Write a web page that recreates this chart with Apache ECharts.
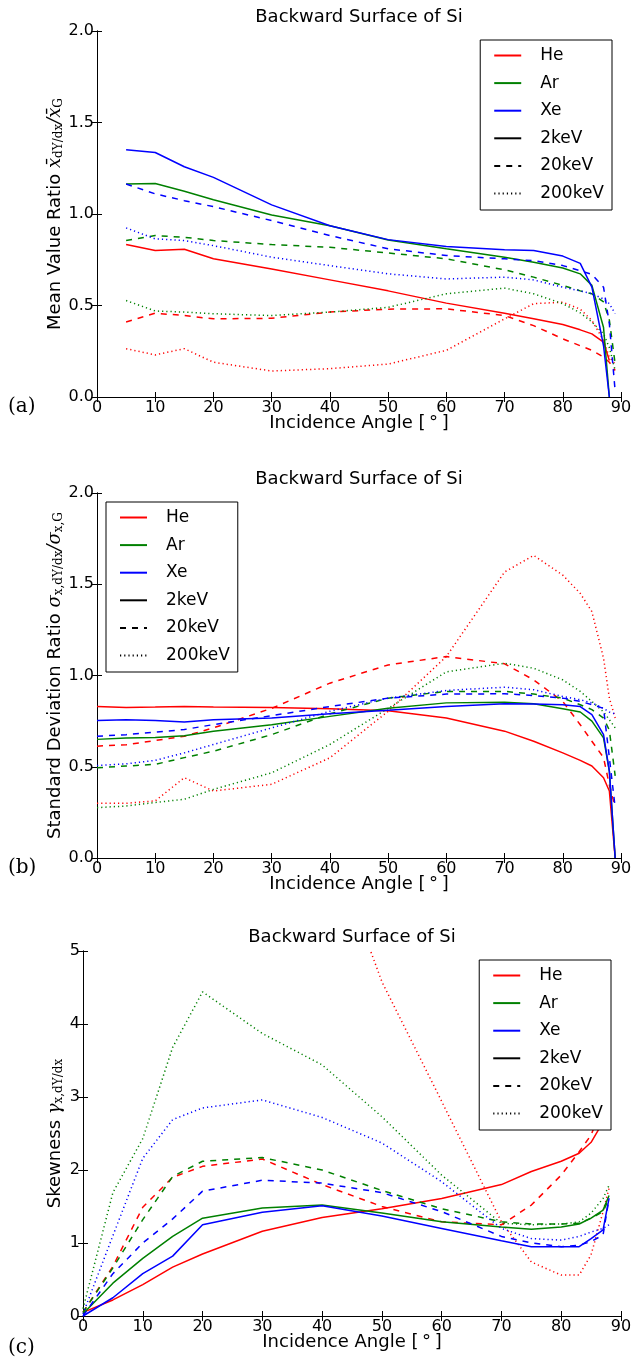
<!DOCTYPE html>
<html><head><meta charset="utf-8">
<script src="https://cdn.jsdelivr.net/npm/echarts@6/dist/echarts.min.js"></script>
<style>html,body{margin:0;padding:0;background:#fff}#c{width:644px;height:1362px}</style>
</head><body><div id="c"></div>
<script>
// ---------- data ----------
const anglesA = [5,10,15,20,30,40,50,60,70,75,80,83,85,87,88,89];
const aHe2   = [0.833,0.80,0.807,0.755,0.70,0.64,0.58,0.513,0.458,0.427,0.396,0.367,0.345,0.30,0.20,null];
const aAr2   = [1.164,1.167,1.124,1.078,0.995,0.936,0.858,0.81,0.764,0.736,0.705,0.673,0.61,0.38,0.0,null];
const aXe2   = [1.351,1.336,1.258,1.20,1.05,0.936,0.86,0.822,0.804,0.80,0.77,0.73,0.60,0.28,0.0,null];
const aHe20  = [0.41,0.458,0.445,0.427,0.43,0.464,0.48,0.482,0.445,0.39,0.318,0.28,0.255,0.218,0.19,0.145];
const aAr20  = [0.855,0.882,0.873,0.855,0.833,0.818,0.787,0.755,0.695,0.655,0.61,0.58,0.564,0.52,0.42,0.18];
const aXe20  = [1.164,1.11,1.073,1.04,0.964,0.882,0.81,0.773,0.755,0.745,0.718,0.69,0.67,0.60,0.40,0.03];
const aHe200 = [0.264,0.23,0.264,0.19,0.142,0.155,0.18,0.255,0.427,0.51,0.518,0.48,0.418,0.31,0.218,0.18];
const aAr200 = [0.527,0.47,0.464,0.455,0.445,0.464,0.49,0.564,0.595,0.564,0.51,0.46,0.41,0.345,0.27,0.145];
const aXe200 = [0.924,0.864,0.855,0.827,0.764,0.718,0.673,0.645,0.655,0.64,0.60,0.58,0.564,0.536,0.51,0.455];

const anglesB = [0,5,10,15,20,30,40,50,60,70,75,80,83,85,87,88,89];
const bHe2   = [0.83,0.825,0.827,0.83,0.827,0.825,0.818,0.807,0.767,0.695,0.64,0.576,0.535,0.504,0.44,0.367,0.0];
const bAr2   = [0.65,0.658,0.66,0.67,0.695,0.73,0.776,0.82,0.85,0.853,0.845,0.818,0.80,0.75,0.658,0.476,0.0];
const bXe2   = [0.753,0.758,0.753,0.745,0.758,0.767,0.79,0.81,0.83,0.845,0.844,0.84,0.83,0.785,0.676,0.476,0.0];
const bHe20  = [0.613,0.62,0.644,0.667,0.713,0.82,0.958,1.058,1.104,1.064,0.976,0.858,0.73,0.64,0.55,0.40,0.276];
const bAr20  = [0.494,0.504,0.513,0.55,0.585,0.676,0.79,0.876,0.913,0.913,0.898,0.876,0.84,0.813,0.767,0.70,0.45];
const bXe20  = [0.667,0.676,0.689,0.704,0.731,0.78,0.83,0.876,0.898,0.90,0.89,0.876,0.858,0.84,0.82,0.55,0.276];
const bHe200 = [0.30,0.30,0.313,0.44,0.367,0.404,0.549,0.804,1.104,1.567,1.658,1.55,1.45,1.35,1.095,0.876,0.767];
const bAr200 = [0.276,0.285,0.304,0.322,0.376,0.467,0.622,0.82,1.02,1.067,1.04,0.976,0.913,0.858,0.80,0.758,0.713];
const bXe200 = [0.507,0.516,0.535,0.576,0.622,0.713,0.804,0.876,0.918,0.936,0.922,0.885,0.867,0.85,0.82,0.80,0.79];

const anglesC = [0,5,10,15,20,30,40,50,60,70,75,80,83,85,87,88];
const cHe2   = [0.05,0.22,0.43,0.67,0.85,1.16,1.35,1.47,1.61,1.80,1.98,2.12,2.23,2.38,2.66,3.0];
const cAr2   = [0.03,0.45,0.79,1.09,1.34,1.48,1.52,1.41,1.29,1.22,1.19,1.22,1.26,1.34,1.45,1.65];
const cXe2   = [0.0,0.25,0.58,0.82,1.25,1.42,1.51,1.37,1.20,1.03,0.95,0.95,0.95,1.06,1.18,1.61];
const cHe20  = [0.05,0.68,1.49,1.90,2.05,2.15,1.80,1.50,1.29,1.25,1.52,1.93,2.25,2.48,2.90,3.30];
const cAr20  = [0.05,0.66,1.32,1.91,2.12,2.17,2.00,1.72,1.47,1.29,1.26,1.26,1.27,1.34,1.43,1.61];
const cXe20  = [0.0,0.58,1.00,1.33,1.71,1.86,1.82,1.69,1.43,1.09,1.00,0.95,0.97,1.02,1.11,1.61];
const cHe200 = [12.0,13.0,12.5,12.0,11.0,9.0,6.8,4.58,2.94,1.29,0.74,0.56,0.56,0.84,1.43,1.75];
const cAr200 = [0.1,1.69,2.43,3.68,4.44,3.87,3.44,2.73,1.93,1.27,1.25,1.26,1.29,1.41,1.61,1.79];
const cXe200 = [0.03,1.10,2.16,2.69,2.85,2.96,2.72,2.37,1.84,1.20,1.06,1.04,1.09,1.15,1.20,1.25];

const elements = ['He','Ar','Xe'];
const energies = ['2keV','20keV','200keV'];
const titleText = 'Backward Surface of Si';
const xName = 'Incidence Angle [\u2009°\u2009]';
const panelLabels = ['(a)','(b)','(c)'];

// ---------- styling ----------
const colors = {He:'#ff0000', Ar:'#008000', Xe:'#0000ff'};
const dashes = {'2keV':'solid', '20keV':[6,6], '200keV':[1.2,3]};
const SANS = 'DejaVu Sans';
const SERIF = 'DejaVu Serif';

const panels = [
  {angles: anglesA, data: {He:[aHe2,aHe20,aHe200], Ar:[aAr2,aAr20,aAr200], Xe:[aXe2,aXe20,aXe200]},
   grid:{left:97, top:31, width:524, height:366}, yMax:2, yInt:0.5, dec:1, nameGap:32,
   legend:{right:644-612, top:40},
   yname:'{t|Mean Value Ratio }{m|x\u0304}{s|dY/dx}{m|/x\u0304}{s|G}'},
  {angles: anglesB, data: {He:[bHe2,bHe20,bHe200], Ar:[bAr2,bAr20,bAr200], Xe:[bXe2,bXe20,bXe200]},
   grid:{left:97, top:493, width:524, height:365}, yMax:2, yInt:0.5, dec:1, nameGap:32,
   legend:{left:106, top:502},
   yname:'{t|Standard Deviation Ratio }{m|σ}{s|x,dY/dx}{m|/σ}{s|x,G}'},
  {angles: anglesC, data: {He:[cHe2,cHe20,cHe200], Ar:[cAr2,cAr20,cAr200], Xe:[cXe2,cXe20,cXe200]},
   grid:{left:83, top:951, width:538, height:365}, yMax:5, yInt:1, dec:0, nameGap:18,
   legend:{right:644-611, top:960},
   yname:'{t|Skewness }{m|γ}{s|x,dY/dx}'}
];

const grid=[], xAxis=[], yAxis=[], series=[], legend=[], title=[], graphic=[];
const axLine = {show:true, lineStyle:{color:'#000', width:1}};
const tick = {show:true, inside:true, length:5, lineStyle:{color:'#000', width:1}};
const nameRich = {
  t:{fontFamily:SANS, fontSize:18, color:'#000'},
  m:{fontFamily:SERIF, fontStyle:'italic', fontSize:18, color:'#000'},
  s:{fontFamily:SERIF, fontSize:12, color:'#000', padding:[7,0,0,0]}
};

panels.forEach((p, gi) => {
  grid.push(Object.assign({containLabel:false, show:false}, p.grid));
  xAxis.push({gridIndex:gi, type:'value', min:0, max:90, interval:10, position:'bottom',
    axisLine:axLine, axisTick:tick, splitLine:{show:false},
    axisLabel:{color:'#000', fontFamily:SANS, fontSize:16, margin:3},
    name:xName, nameLocation:'middle', nameGap:17, nameMoveOverlap:false,
    nameTextStyle:{color:'#000', fontFamily:SANS, fontSize:18, verticalAlign:'top'}});
  xAxis.push({gridIndex:gi, type:'value', min:0, max:90, interval:10, position:'top',
    axisLine:axLine, axisTick:tick, axisLabel:{show:false}, splitLine:{show:false}});
  yAxis.push({gridIndex:gi, type:'value', min:0, max:p.yMax, interval:p.yInt, position:'left',
    axisLine:axLine, axisTick:tick, splitLine:{show:false},
    axisLabel:{color:'#000', fontFamily:SANS, fontSize:16, margin:3,
      formatter: v => v.toFixed(p.dec)},
    name:p.yname, nameLocation:'middle', nameRotate:90, nameGap:p.nameGap, nameMoveOverlap:false,
    nameTextStyle:{rich:nameRich}});
  yAxis.push({gridIndex:gi, type:'value', min:0, max:p.yMax, interval:p.yInt, position:'right',
    axisLine:axLine, axisTick:tick, axisLabel:{show:false}, splitLine:{show:false}});

  elements.forEach(el => {
    energies.forEach((en, ei) => {
      const vals = p.data[el][ei];
      series.push({type:'line', name:el, xAxisIndex:gi*2, yAxisIndex:gi*2,
        data:p.angles.map((a,i)=>[a, vals[i]]), symbol:'none', connectNulls:false,
        silent:true, animation:false, clip:true,
        lineStyle:{color:colors[el], width:1.5, type:dashes[en]},
        itemStyle:{color:colors[el]}, z: 2});
    });
  });
  energies.forEach(en => {
    series.push({type:'line', name:en, xAxisIndex:gi*2, yAxisIndex:gi*2, data:[],
      symbol:'none', animation:false,
      lineStyle:{color:'#000', width:1.5, type:dashes[en]}, itemStyle:{color:'#000'}});
  });

  legend.push(Object.assign({
    orient:'vertical', data:elements.concat(energies), selectedMode:false,
    backgroundColor:'#fff', borderColor:'#000', borderWidth:1, borderRadius:0,
    padding:[7,8,8,13], itemWidth:27, itemHeight:16, itemGap:10.6,
    itemStyle:{opacity:0},
    textStyle:{fontFamily:SANS, fontSize:17, color:'#000', padding:[0,0,0,14]}
  }, p.legend));

  const cx = p.grid.left + p.grid.width/2;
  title.push({text:titleText, left:cx, top:p.grid.top-23, textAlign:'center', padding:0,
    textStyle:{fontFamily:SANS, fontSize:18, fontWeight:'normal', color:'#000'}});

  graphic.push({type:'text', left:8, top:p.grid.top+p.grid.height+ (gi===2?22:0),
    style:{text:panelLabels[gi], font:'20px "DejaVu Serif"', fill:'#000'}});
});

const chart = echarts.init(document.getElementById('c'));
chart.setOption({animation:false, backgroundColor:'#fff', title, grid, xAxis, yAxis, series, legend, graphic});
</script></body></html>
